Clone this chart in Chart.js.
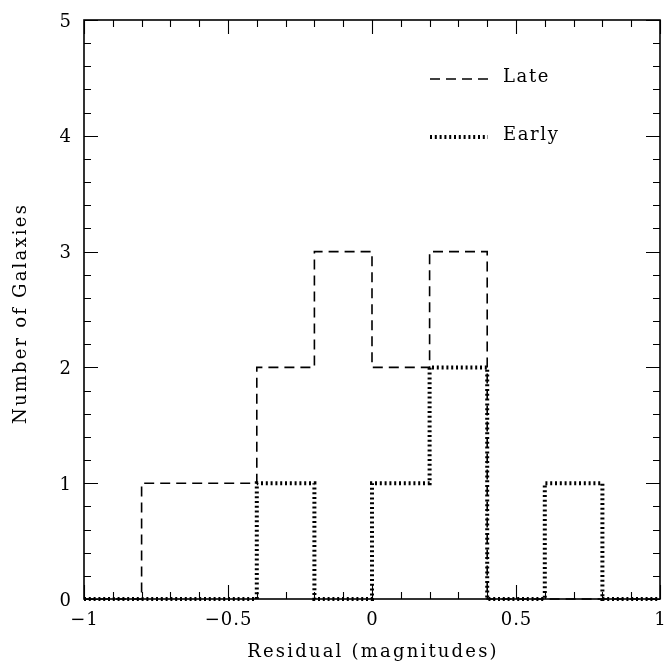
<!DOCTYPE html>
<html>
<head>
<meta charset="utf-8">
<script src="https://cdn.jsdelivr.net/npm/chart.js@4/dist/chart.umd.min.js"></script>
<style>
  html, body { margin: 0; padding: 0; background: #ffffff; }
  #wrap { width: 666px; height: 662px; }
</style>
</head>
<body>
<div id="wrap"><canvas id="hist" width="666" height="662"></canvas></div>
<script>
// Histogram bin edges (residual, magnitudes) and galaxy counts per bin
const binEdges = [-1.0, -0.8, -0.6, -0.4, -0.2, 0.0, 0.2, 0.4, 0.6, 0.8, 1.0];
const lateCounts  = [0, 1, 1, 2, 3, 2, 3, 0, 0, 0];
const earlyCounts = [0, 0, 0, 1, 0, 1, 2, 0, 1, 0];

// Axis ticks and labels
const xMajorTicks = [-1, -0.5, 0, 0.5, 1];
const xTickLabels = ['\u22121', '\u22120.5', '0', '0.5', '1'];
const xMinorTicks = [-0.9, -0.8, -0.7, -0.6, -0.4, -0.3, -0.2, -0.1, 0.1, 0.2, 0.3, 0.4, 0.6, 0.7, 0.8, 0.9];
const yMajorTicks = [0, 1, 2, 3, 4, 5];
const yTickLabels = ['0', '1', '2', '3', '4', '5'];
const yMinorTicks = [0.2, 0.4, 0.6, 0.8, 1.2, 1.4, 1.6, 1.8, 2.2, 2.4, 2.6, 2.8, 3.2, 3.4, 3.6, 3.8, 4.2, 4.4, 4.6, 4.8];

const seriesNames = ['Late', 'Early'];
const xTitle = 'Residual (magnitudes)';
const yTitle = 'Number of Galaxies';

// Step outline: one point per bin edge, last count repeated at the right edge
function stepPoints(counts) {
  const pts = counts.map((c, i) => ({ x: binEdges[i], y: c }));
  pts.push({ x: binEdges[binEdges.length - 1], y: counts[counts.length - 1] });
  return pts;
}

const FONT = '"DejaVu Serif", "Liberation Serif", serif';
const DASHED = [10, 6];
const DOTTED = [2, 2.8];

// Boxed frame, inward ticks on all four sides, labels, titles and key
const framePlugin = {
  id: 'frame',
  afterDatasetsDraw(chart) {
    const ctx = chart.ctx;
    const xs = chart.scales.x, ys = chart.scales.y;
    const a = chart.chartArea;
    ctx.save();
    ctx.strokeStyle = '#000';
    ctx.fillStyle = '#000';

    // frame
    ctx.lineWidth = 1.6;
    ctx.setLineDash([]);
    ctx.strokeRect(a.left, a.top, a.right - a.left, a.bottom - a.top);

    // ticks
    ctx.lineWidth = 1.1;
    const xTick = (v, len) => {
      const p = Math.round(xs.getPixelForValue(v)) + 0.5;
      ctx.beginPath();
      ctx.moveTo(p, a.bottom); ctx.lineTo(p, a.bottom - len);
      ctx.moveTo(p, a.top); ctx.lineTo(p, a.top + len);
      ctx.stroke();
    };
    const yTick = (v, len) => {
      const p = Math.round(ys.getPixelForValue(v)) + 0.5;
      ctx.beginPath();
      ctx.moveTo(a.left, p); ctx.lineTo(a.left + len, p);
      ctx.moveTo(a.right, p); ctx.lineTo(a.right - len, p);
      ctx.stroke();
    };
    xMinorTicks.forEach(v => xTick(v, 7));
    xMajorTicks.forEach(v => xTick(v, 14));
    yMinorTicks.forEach(v => yTick(v, 7));
    yMajorTicks.forEach(v => yTick(v, 14));

    // tick labels
    ctx.font = '18px ' + FONT;
    ctx.letterSpacing = '1px';
    ctx.textBaseline = 'alphabetic';
    ctx.textAlign = 'center';
    xMajorTicks.forEach((v, i) => {
      ctx.fillText(xTickLabels[i], xs.getPixelForValue(v) + 0.5, a.bottom + 26);
    });
    ctx.textAlign = 'right';
    yMajorTicks.forEach((v, i) => {
      ctx.fillText(yTickLabels[i], a.left - 12, ys.getPixelForValue(v) + 6.5);
    });

    // axis titles
    ctx.letterSpacing = '2.2px';
    ctx.textAlign = 'center';
    ctx.fillText(xTitle, (a.left + a.right) / 2 + 1, a.bottom + 58);
    ctx.save();
    ctx.translate(26, (a.top + a.bottom) / 2 + 4);
    ctx.rotate(-Math.PI / 2);
    ctx.fillText(yTitle, 0, 0);
    ctx.restore();

    // key
    const keyX0 = a.left + 346, keyX1 = a.left + 404;
    const rows = [
      { y: a.top + 59, dash: DASHED, width: 1.6 },
      { y: a.top + 117, dash: DOTTED, width: 4 }
    ];
    ctx.letterSpacing = '1.6px';
    ctx.textAlign = 'left';
    rows.forEach((r, i) => {
      ctx.lineWidth = r.width;
      ctx.setLineDash(r.dash);
      ctx.beginPath();
      ctx.moveTo(keyX0, r.y);
      ctx.lineTo(keyX1, r.y);
      ctx.stroke();
      ctx.fillText(seriesNames[i], keyX1 + 15, r.y + 3);
    });
    ctx.restore();
  }
};

new Chart(document.getElementById('hist'), {
  type: 'line',
  data: {
    datasets: [
      {
        label: seriesNames[0],
        data: stepPoints(lateCounts),
        stepped: true,
        borderColor: '#000',
        borderWidth: 1.6,
        borderDash: DASHED,
        pointRadius: 0,
        fill: false,
        clip: 6
      },
      {
        label: seriesNames[1],
        data: stepPoints(earlyCounts),
        stepped: true,
        borderColor: '#000',
        borderWidth: 4,
        borderDash: DOTTED,
        borderCapStyle: 'butt',
        pointRadius: 0,
        fill: false,
        clip: 6
      }
    ]
  },
  options: {
    responsive: false,
    animation: false,
    devicePixelRatio: 1,
    layout: { padding: { left: 84, top: 20, right: 6, bottom: 63 } },
    plugins: { legend: { display: false }, tooltip: { enabled: false } },
    scales: {
      x: { type: 'linear', min: -1, max: 1, display: false },
      y: { type: 'linear', min: 0, max: 5, display: false }
    }
  },
  plugins: [framePlugin]
});
</script>
</body>
</html>
